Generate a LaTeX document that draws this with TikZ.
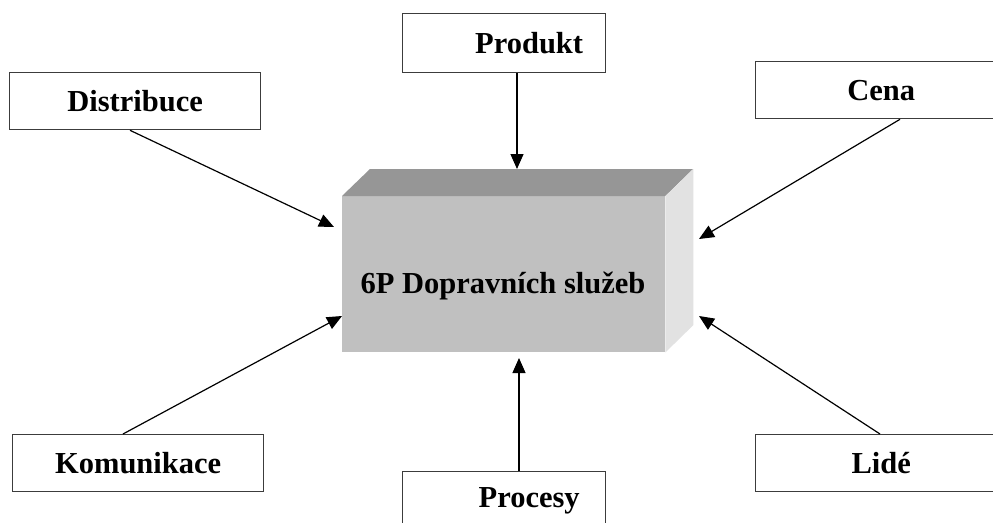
\documentclass[tikz,border=0pt]{standalone}
\usepackage{fontspec}
\setmainfont{Liberation Serif}
\usetikzlibrary{arrows.meta}
\definecolor{frontgray}{HTML}{C0C0C0}
\definecolor{topgray}{HTML}{969696}
\definecolor{sidegray}{HTML}{E2E2E2}
\definecolor{boxline}{HTML}{3C3C3C}
\tikzset{
  lbox/.style={draw=boxline, line width=1.3pt, fill=white, inner sep=0pt,
    anchor=north west, minimum width=251pt, minimum height=57pt,
    font=\fontsize{30.5}{30.5}\selectfont\bfseries},
  conn/.style={line width=1.2pt, -{Triangle[length=15pt,width=13pt]}},
}
\begin{document}
\begin{tikzpicture}[x=1pt,y=-1pt]
\useasboundingbox (0,0) rectangle (993,522);
\clip (0,0) rectangle (993,522);
\fill[white] (0,0) rectangle (993,522);
% cube
\node[fill=frontgray, inner sep=0pt, anchor=north west, minimum width=323pt, minimum height=156pt] (front) at (342,196) {};
\fill[topgray] (front.north west) -- ++(28,-27) -- ++(323,0) -- (front.north east) -- cycle;
\fill[sidegray] (front.north east) -- ++(28,-27) -- ++(0,156) -- (front.south east) -- cycle;
\node[font=\fontsize{30.5}{30.5}\selectfont\bfseries] (title) at (503,286) {6P Dopravních služeb};
% boxes
\node[lbox] (dist) at (9,72) {Distribuce};
\node[lbox, minimum width=203pt, minimum height=59pt] (prod) at (402,13) {\hspace*{50pt}Produkt};
\node[lbox] (cena) at (755,61) {Cena};
\node[lbox] (kom) at (12,434) {Komunikace};
\node[lbox, minimum width=203pt, minimum height=59pt] (proc) at (402,471) {\hspace*{50pt}Procesy};
\node[lbox] (lide) at (755,434) {Lidé};
% arrow tips
\coordinate (tDist) at (334,227);
\coordinate (tProd) at (517,169);
\coordinate (tCena) at (699,239);
\coordinate (tKom) at (342,316);
\coordinate (tProc) at (519,358);
\coordinate (tLide) at (699,316);
% connectors
\draw[conn] ([xshift=121pt]dist.south west) -- (tDist);
\draw[conn] ([xshift=115pt]prod.south west) -- (tProd);
\draw[conn] ([xshift=145pt]cena.south west) -- (tCena);
\draw[conn] ([xshift=111pt]kom.north west) -- (tKom);
\draw[conn] ([xshift=117pt]proc.north west) -- (tProc);
\draw[conn] ([xshift=125pt]lide.north west) -- (tLide);
\end{tikzpicture}
\end{document}
